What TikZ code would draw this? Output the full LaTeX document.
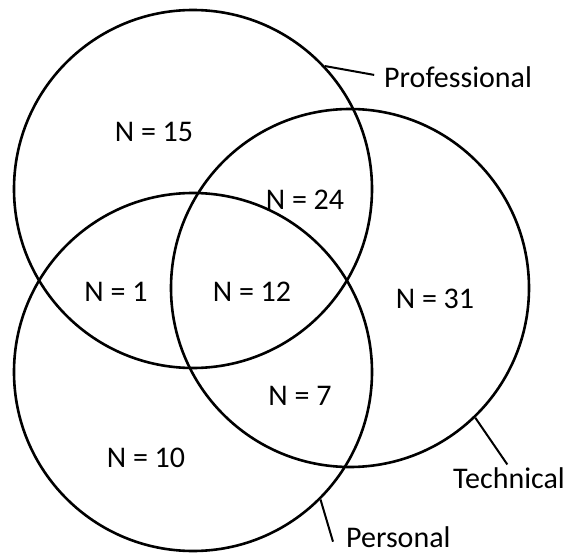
\documentclass[tikz,border=0pt]{standalone}
\usepackage{fontspec}
\setmainfont{Carlito}

\begin{document}
\begin{tikzpicture}[
  x=1pt, y=-1pt,
  font=\fontsize{30}{34}\selectfont,
  ring/.style={draw, circle, line width=2.6pt, minimum size=358pt, inner sep=0pt},
  count/.style={inner sep=0pt},
  tag/.style={inner sep=0pt, anchor=base west},
  lead/.style={line width=2pt}
]
\useasboundingbox (0,0) rectangle (566,554);

\node[ring] (prof) at (193,189) {};
\node[ring] (tech) at (350,288) {};
\node[ring] (pers) at (193,372) {};

\node[count] (n15) at (154,132) {N = 15};
\node[count] (n24) at (305,200) {N = 24};
\node[count] (n1) at (116,292) {N = 1};
\node[count] (n12) at (252,292) {N = 12};
\node[count] (n31) at (435,299) {N = 31};
\node[count] (n7) at (300,396) {N = 7};
\node[count] (n10) at (146,458) {N = 10};

\node[tag] (proflabel) at (384,87) {Professional};
\node[tag] (techlabel) at (453,488) {Technical};
\node[tag] (perslabel) at (346,547) {Personal};

\draw[lead, shorten >=10pt] (prof.43) -- (proflabel.west);
\draw[lead, shorten >=3pt] (tech.-46) -- (techlabel.north);
\draw[lead] (pers.-45) -- ([xshift=-13pt, yshift=-5pt]perslabel.west);

\end{tikzpicture}
\end{document}
